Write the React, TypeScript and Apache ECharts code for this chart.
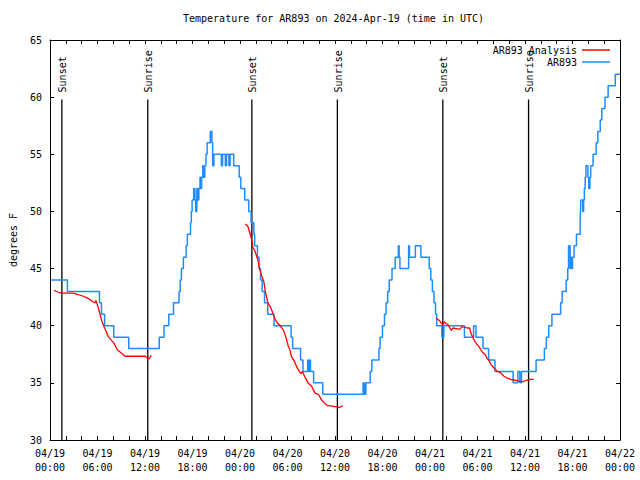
import React, { useEffect, useRef } from "react";
import * as echarts from "echarts";

// Hours since 2024-04-19 00:00 UTC
const xTickLabels = [
  "04/19\n00:00", "04/19\n06:00", "04/19\n12:00", "04/19\n18:00",
  "04/20\n00:00", "04/20\n06:00", "04/20\n12:00", "04/20\n18:00",
  "04/21\n00:00", "04/21\n06:00", "04/21\n12:00", "04/21\n18:00",
  "04/22\n00:00",
];

const sunEvents = [1.5, 12.35, 25.5, 36.3, 49.62, 60.45];
const sunLabels = ["Sunset", "Sunrise", "Sunset", "Sunrise", "Sunset", "Sunrise"];

// Observed temperature (step data: value holds from time until next point)
const obsData: [number, number][] = [
  [0.1, 44], [2.2, 43], [6.25, 42], [6.5, 41], [6.9, 40], [8.05, 39], [9.95, 38],
  [13.8, 39], [14.4, 40], [15.0, 41], [15.6, 42], [16.3, 43], [16.45, 44], [16.6, 45],
  [16.85, 46], [17.2, 47], [17.35, 48], [17.75, 49], [17.85, 50], [17.95, 51], [18.15, 52],
  [18.3, 51], [18.4, 50], [18.55, 52], [18.7, 51], [18.8, 52], [18.95, 53], [19.05, 52],
  [19.15, 53], [19.3, 54], [19.4, 53], [19.55, 54], [19.7, 55], [19.85, 56], [20.25, 57],
  [20.45, 56], [20.55, 54], [20.7, 55], [21.65, 54], [21.8, 55], [22.15, 54], [22.3, 55],
  [22.6, 54], [22.75, 55], [23.2, 54], [23.9, 53], [24.1, 52], [24.6, 51], [25.1, 50],
  [25.4, 49], [25.75, 48], [25.85, 47], [26.2, 46], [26.4, 45], [26.6, 44], [26.8, 43],
  [27.1, 42], [27.5, 41], [28.3, 40], [30.45, 39], [30.65, 38], [31.65, 37], [31.95, 36],
  [32.55, 37], [32.65, 36], [32.8, 37], [32.9, 36], [33.3, 35], [34.45, 34],
  [39.55, 35], [39.65, 34], [39.75, 35], [39.8, 34], [39.9, 35], [40.45, 36], [40.65, 37],
  [41.55, 38], [41.7, 39], [42.0, 40], [42.25, 41], [42.45, 42], [42.65, 43], [42.85, 44],
  [43.2, 45], [43.6, 46], [44.0, 47], [44.1, 46], [44.2, 45], [45.3, 47], [45.4, 46],
  [46.15, 47], [46.85, 46], [47.9, 45], [48.1, 44], [48.3, 43], [48.5, 42], [48.7, 41],
  [48.85, 40], [49.5, 39], [49.75, 40], [52.35, 39], [53.5, 40], [53.8, 39], [54.7, 38],
  [55.4, 37], [56.2, 36], [58.5, 35], [59.1, 36], [59.35, 35], [59.55, 36], [61.4, 37],
  [62.45, 38], [62.7, 39], [63.0, 40], [63.4, 41], [64.5, 42], [64.7, 43], [65.2, 44],
  [65.4, 45], [65.5, 47], [65.7, 45], [65.8, 46], [65.9, 45], [66.0, 46], [66.2, 47],
  [66.5, 48], [66.97, 49], [67.05, 51], [67.3, 50], [67.4, 51], [67.5, 52], [67.6, 53],
  [67.7, 54], [67.95, 53], [68.05, 52], [68.2, 53], [68.3, 54], [68.6, 55], [68.99, 56],
  [69.2, 57], [69.5, 58], [69.7, 59], [70.1, 60], [70.5, 61], [71.4, 62], [72, 62],
];

// Analysis, three segments
const analysisSeg1: [number, number][] = [
  [0.5, 43.1], [1.0, 42.95], [1.4, 42.85], [2.9, 42.85], [4.15, 42.6], [4.8, 42.4],
  [5.4, 42.1], [5.7, 42.0], [5.8, 42.2], [5.95, 41.9], [6.25, 41.2], [6.55, 40.4],
  [6.9, 39.8], [7.4, 39.0], [8.05, 38.5], [8.5, 37.9], [9.5, 37.33], [12.0, 37.33],
  [12.5, 37.1], [12.8, 37.4],
];
const analysisSeg2: [number, number][] = [
  [24.67, 48.9], [24.99, 48.7], [25.5, 47.5], [25.6, 46.9], [25.85, 46.6], [26.26, 45.75],
  [26.47, 45.0], [26.76, 44.3], [27.0, 43.9], [27.18, 43.1], [27.52, 42.0], [27.8, 41.7],
  [28.1, 41.2], [28.4, 40.6], [28.65, 40.3], [29.07, 40.0], [29.49, 39.6], [29.7, 39.2],
  [29.9, 38.75], [30.1, 38.2], [30.3, 37.9], [30.5, 37.3], [30.87, 36.9], [31.16, 36.4],
  [31.6, 35.9], [31.7, 35.8], [31.9, 36.0], [32.2, 35.5], [32.63, 34.96], [33.05, 34.7],
  [33.47, 34.1], [33.9, 34.0], [34.3, 33.5], [34.7, 33.2], [35.1, 33.0], [35.8, 32.95],
  [36.2, 32.9], [36.5, 32.85], [36.7, 32.9], [37.0, 33.0],
];
const analysisSeg3: [number, number][] = [
  [48.75, 40.65], [49.2, 40.45], [49.45, 40.2], [49.6, 40.07], [49.8, 40.35], [50.0, 40.2],
  [50.3, 40.07], [50.5, 39.8], [50.7, 39.6], [50.9, 39.8], [51.3, 39.75], [51.6, 39.7],
  [51.8, 39.7], [52.0, 39.9], [52.3, 39.9], [52.7, 39.8], [53.0, 39.8], [53.2, 39.3],
  [53.4, 39.0], [53.6, 38.7], [53.8, 38.5], [54.2, 38.15], [54.6, 37.7], [55.0, 37.45],
  [55.2, 37.15], [55.5, 36.9], [55.7, 36.6], [56.1, 36.3], [56.5, 36.0], [56.9, 35.9],
  [57.3, 35.6], [57.8, 35.4], [58.2, 35.3], [58.6, 35.25], [59.0, 35.2], [59.4, 35.1],
  [59.8, 35.12], [60.3, 35.25], [60.7, 35.3], [61.1, 35.3],
];

const FONT = "'DejaVu Sans Mono', 'Liberation Mono', monospace";
const BLUE = "#1e8cff";
const RED = "#ff0000";
const SUN_LINE_TOP = 59.8;

export default function App() {
  const ref = useRef<HTMLDivElement>(null);
  useEffect(() => {
    if (!ref.current) return;
    const chart = echarts.init(ref.current, undefined, { renderer: "svg" });
    const analysisData: any[] = [
      ...analysisSeg1,
      [13, "-"],
      ...analysisSeg2,
      [40, "-"],
      ...analysisSeg3,
    ];
    const axisCommon = {
      axisLine: { show: true, onZero: false, lineStyle: { color: "#000", width: 1 } },
      axisTick: { show: true, inside: true, length: 4, lineStyle: { color: "#000" } },
      splitLine: { show: false },
    };
    const xCommon: any = {
      type: "value",
      min: 0,
      max: 72,
      interval: 6,
      ...axisCommon,
      minorTick: { show: true, splitNumber: 3, length: 4, lineStyle: { color: "#000" } },
    };
    const yCommon: any = {
      type: "value",
      min: 30,
      max: 65,
      interval: 5,
      ...axisCommon,
    };
    chart.setOption({
      animation: false,
      backgroundColor: "#fff",
      title: {
        text: "Temperature for AR893 on 2024-Apr-19 (time in UTC)",
        left: 183,
        top: 13,
        padding: 0,
        textStyle: { fontFamily: FONT, fontSize: 10, fontWeight: "normal", color: "#000" },
      },
      legend: {
        data: ["AR893 Analysis", "AR893"],
        orient: "vertical",
        right: 30,
        top: 44,
        align: "right",
        itemWidth: 28,
        itemHeight: 1.5,
        itemGap: 0,
        icon: "rect",
        padding: 0,
        textStyle: { fontFamily: FONT, fontSize: 10, color: "#000", lineHeight: 12 },
      },
      grid: { left: 47, right: 20, top: 40, bottom: 40 },
      xAxis: [
        {
          ...xCommon,
          position: "bottom",
          axisLabel: {
            formatter: (v: number) => xTickLabels[Math.round(v / 6)] ?? "",
            fontFamily: FONT,
            fontSize: 10,
            color: "#000",
            lineHeight: 14,
            margin: 6,
          },
        },
        { ...xCommon, position: "top", axisLabel: { show: false } },
      ],
      yAxis: [
        {
          ...yCommon,
          position: "left",
          name: "degrees F",
          nameLocation: "middle",
          nameGap: 32,
          nameRotate: 90,
          nameTextStyle: { fontFamily: FONT, fontSize: 10, color: "#000" },
          axisLabel: { fontFamily: FONT, fontSize: 10, color: "#000", margin: 8 },
        },
        { ...yCommon, position: "right", axisLabel: { show: false } },
      ],
      series: [
        {
          type: "custom",
          name: "sun",
          silent: true,
          z: 1,
          data: sunEvents.map((h) => [h, 30]),
          renderItem: (params: any, api: any) => {
            const h = api.value(0);
            const top = api.coord([h, SUN_LINE_TOP]);
            const bot = api.coord([h, 30]);
            return {
              type: "group",
              children: [
                {
                  type: "line",
                  shape: { x1: top[0], y1: top[1], x2: bot[0], y2: bot[1] },
                  style: { stroke: "#000", lineWidth: 1.3 },
                },
                {
                  type: "text",
                  x: top[0] + 1,
                  y: top[1] - 7,
                  rotation: Math.PI / 2,
                  style: {
                    text: sunLabels[params.dataIndex],
                    font: `10px ${FONT}`,
                    fill: "#000",
                    align: "left",
                    verticalAlign: "middle",
                  },
                },
              ],
            };
          },
        },
        {
          name: "AR893",
          type: "line",
          step: "end",
          data: obsData,
          symbol: "none",
          showSymbol: false,
          z: 2,
          lineStyle: { color: BLUE, width: 1.5 },
          itemStyle: { color: BLUE },
        },
        {
          name: "AR893 Analysis",
          type: "line",
          data: analysisData,
          symbol: "none",
          showSymbol: false,
          connectNulls: false,
          z: 3,
          lineStyle: { color: RED, width: 1.3 },
          itemStyle: { color: RED },
        },
      ],
    });
    return () => chart.dispose();
  }, []);
  return (
    <div
      ref={ref}
      style={{ position: "fixed", left: 0, top: 0, width: 640, height: 480, background: "#fff" }}
    />
  );
}
